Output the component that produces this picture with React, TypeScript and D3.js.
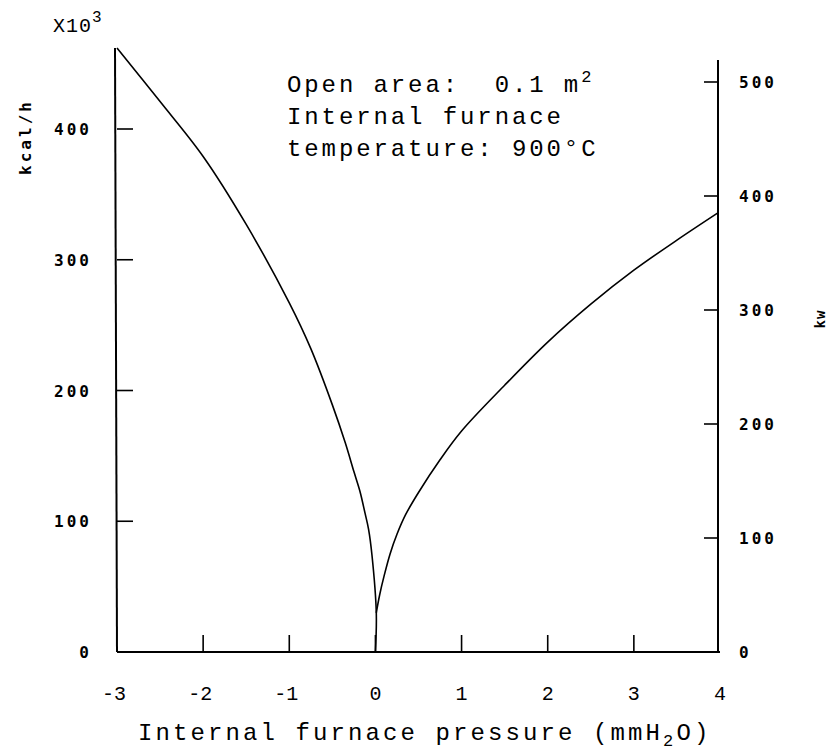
import React from "react";
import * as d3 from "d3";

// Heat loss through an open area vs. internal furnace pressure
const pressureTicks = [-3, -2, -1, 0, 1, 2, 3, 4];
const kcalTicks = [0, 100, 200, 300, 400];
const kwTicks = [0, 100, 200, 300, 400, 500];

// negative-pressure branch (air drawn in), kcal/h x10^3
const negPressure = [-3, -2.5, -2, -1.5, -1, -0.75, -0.5, -0.35, -0.25, -0.18, -0.12, -0.08, -0.04, 0.01, 0];
const negHeat = [462, 421, 379, 327, 267, 232, 189, 160, 138, 123, 106, 94, 74, 30, 0];

// positive-pressure branch (hot gas blown out)
const posPressure = [0.01, 0.05, 0.1, 0.17, 0.25, 0.35, 0.5, 0.75, 1, 1.5, 2, 2.5, 3, 3.5, 3.98];
const posHeat = [30, 44, 58, 75, 90, 105, 122, 147, 169, 204, 237, 266, 292, 315, 336];

const W = 831;
const H = 755;
const x0 = 117;
const x1 = 720;
const yBase = 652;

const typeFont = "'Liberation Mono', 'Courier New', monospace";
const gothicFont = "'DejaVu Sans Mono', monospace";

export default function App() {
  const x = d3.scaleLinear().domain([-3, 4]).range([x0, x1]);
  const yKcal = d3.scaleLinear().domain([0, 400]).range([yBase, 129]);
  const yKw = d3.scaleLinear().domain([0, 500]).range([yBase, 82]);

  const line = d3
    .line<[number, number]>()
    .x((d) => x(d[0]))
    .y((d) => yKcal(d[1]))
    .curve(d3.curveCatmullRom.alpha(0.5));

  const negPts = negPressure.map((p, i) => [p, negHeat[i]] as [number, number]);
  const posPts = posPressure.map((p, i) => [p, posHeat[i]] as [number, number]);

  const topLeft = yKcal(462);
  const rightX = x(4) - 2;

  return (
    <svg
      width={W}
      height={H}
      viewBox={`0 0 ${W} ${H}`}
      style={{ position: "absolute", left: 0, top: 0, background: "#fff" }}
    >
      {/* axes frame */}
      <g stroke="#000" strokeWidth={2} fill="none">
        <line x1={x0 - 2} y1={topLeft} x2={x0} y2={yBase} />
        <line x1={x0} y1={yBase} x2={x1} y2={yBase} />
        <line x1={rightX} y1={60} x2={rightX} y2={yBase} />
      </g>

      {/* left ticks (kcal/h) */}
      <g stroke="#000" strokeWidth={1.6}>
        {kcalTicks
          .filter((t) => t > 0)
          .map((t) => (
            <line key={t} x1={x0} x2={x0 + 16} y1={yKcal(t)} y2={yKcal(t)} />
          ))}
      </g>
      <g fontFamily={gothicFont} fontSize={16} fontWeight="bold" letterSpacing={3} textAnchor="end" fill="#000">
        {kcalTicks.map((t) => (
          <text key={t} x={92} y={yKcal(t) + 6}>
            {t}
          </text>
        ))}
      </g>

      {/* right ticks (kW) */}
      <g stroke="#000" strokeWidth={1.6}>
        {kwTicks
          .filter((t) => t > 0)
          .map((t) => (
            <line key={t} x1={rightX - 14} x2={rightX} y1={yKw(t)} y2={yKw(t)} />
          ))}
      </g>
      <g fontFamily={gothicFont} fontSize={16} fontWeight="bold" letterSpacing={3} textAnchor="start" fill="#000">
        {kwTicks.map((t) => (
          <text key={t} x={739} y={yKw(t) + 6}>
            {t}
          </text>
        ))}
      </g>

      {/* bottom ticks */}
      <g stroke="#000" strokeWidth={1.6}>
        {pressureTicks
          .filter((t) => t > -3 && t < 4)
          .map((t) => (
            <line key={t} x1={x(t)} x2={x(t)} y1={yBase} y2={yBase - 17} />
          ))}
      </g>
      <g fontFamily={typeFont} fontSize={20} textAnchor="middle" fill="#000">
        {pressureTicks.map((t) => (
          <text key={t} x={x(t) + (t < 0 ? -3 : 0)} y={700}>
            {t < 0 ? `-${Math.abs(t)}` : `${t}`}
          </text>
        ))}
      </g>

      {/* curves */}
      <g stroke="#000" strokeWidth={1.6} fill="none">
        <path d={line(negPts) ?? ""} />
        <path d={line(posPts) ?? ""} />
      </g>

      {/* axis titles */}
      <text x={53} y={32} fontFamily={typeFont} fontSize={20} fill="#000" letterSpacing={1}>
        X10
        <tspan dy={-10} fontSize={16}>
          3
        </tspan>
      </text>
      <text
        transform="translate(31,137) rotate(-90)"
        fontFamily={gothicFont}
        fontSize={16}
        fontWeight="bold"
        letterSpacing={3}
        textAnchor="middle"
        fill="#000"
      >
        kcal/h
      </text>
      <text
        transform="translate(825,319) rotate(-90)"
        fontFamily={gothicFont}
        fontSize={14}
        fontWeight="bold"
        letterSpacing={1}
        textAnchor="middle"
        fill="#000"
      >
        kw
      </text>
      <text x={138} y={740} fontFamily={typeFont} fontSize={24} letterSpacing={3.1} fill="#000">
        Internal furnace pressure (mmH
        <tspan dy={6} fontSize={17}>
          2
        </tspan>
        <tspan dy={-6}>O)</tspan>
      </text>

      {/* annotation */}
      <g fontFamily={typeFont} fontSize={24} letterSpacing={2.9} fill="#000">
        <text x={287} y={92} xmlSpace="preserve">
          {"Open area:  0.1 m"}
          <tspan dy={-10} fontSize={17}>
            2
          </tspan>
        </text>
        <text x={287} y={124}>
          Internal furnace
        </text>
        <text x={287} y={156}>
          temperature: 900°C
        </text>
      </g>
    </svg>
  );
}
